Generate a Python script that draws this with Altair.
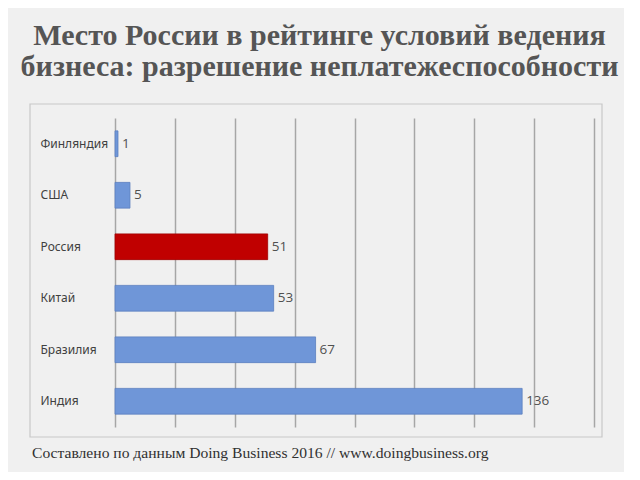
import altair as alt
import pandas as pd

countries = ["Финляндия", "США", "Россия", "Китай", "Бразилия", "Индия"]
ranks = [1, 5, 51, 53, 67, 136]
bar_colors = ["#6f96d8", "#6f96d8", "#c00000", "#6f96d8", "#6f96d8", "#6f96d8"]
edge_colors = ["#5b7fbf", "#5b7fbf", "#a00000", "#5b7fbf", "#5b7fbf", "#5b7fbf"]
title_lines = ["Место России в рейтинге условий ведения",
               "бизнеса: разрешение неплатежеспособности"]
footer = ["Составлено по данным Doing Business 2016 // www.doingbusiness.org"]

df = pd.DataFrame({"country": countries, "rank": ranks})
foot_df = pd.DataFrame({"t": footer})

frame = alt.Chart(foot_df).mark_rect(
    fill=None, stroke="#c8c8c8", strokeWidth=1.2
).encode(
    x=alt.value(-85), x2=alt.value(487), y=alt.value(-14), y2=alt.value(319)
)

base = alt.Chart(df).encode(
    y=alt.Y("country:N", sort=countries, title=None,
            scale=alt.Scale(paddingInner=0.5, paddingOuter=0.25),
            axis=alt.Axis(labelAlign="left", labelPadding=75, ticks=False, domain=False,
                          labelFont="Noto Sans", labelFontSize=12, labelColor="#404040")),
)

bars = base.mark_bar(strokeWidth=0.8).encode(
    x=alt.X("rank:Q", title=None, scale=alt.Scale(domain=[0, 160], nice=False),
            axis=alt.Axis(values=list(range(0, 161, 20)), labels=False, ticks=False,
                          domain=False, grid=True, gridColor="#a6a6a6", gridWidth=1.5)),
    color=alt.Color("country:N", scale=alt.Scale(domain=countries, range=bar_colors), legend=None),
    stroke=alt.Color("country:N", scale=alt.Scale(domain=countries, range=edge_colors),
                     legend=None),
)

labels = base.mark_text(align="left", dx=4, font="Open Sans", fontSize=13.5, color="#505050").encode(
    x="rank:Q", text="rank:Q"
)

foot = alt.Chart(foot_df).mark_text(
    align="left", baseline="alphabetic", font="Liberation Serif", fontSize=15.6, color="#303030"
).encode(x=alt.value(-83), y=alt.value(340), text="t:N")

chart = alt.layer(frame, bars, labels, foot).properties(
    width=479, height=309,
    autosize=alt.AutoSizeParams(type="none"),
    padding={"left": 107, "top": 110, "right": 30, "bottom": 45},
    background="#f0f0f0",
    title=alt.TitleParams(text=title_lines, font="Liberation Serif", fontSize=30,
                          fontWeight="bold", color="#555555", anchor="middle",
                          lineHeight=31, offset=21, dx=-35),
).configure_view(stroke=None)

chart.save("out.html", embed_options={"renderer": "svg", "actions": False})
